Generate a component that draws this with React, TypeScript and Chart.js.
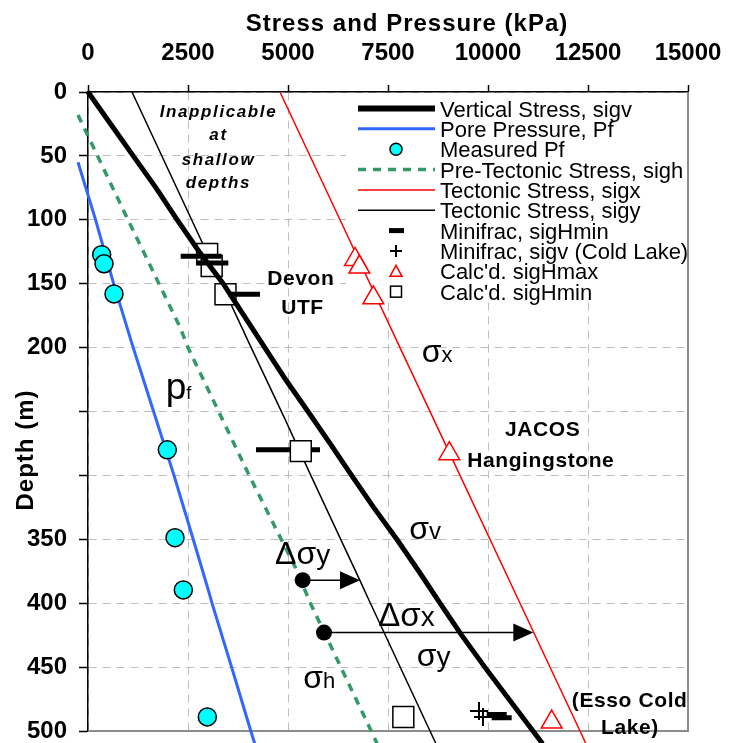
import React, { useEffect, useRef } from 'react';
import { Chart, registerables } from 'chart.js';

Chart.register(...registerables);

const FONT = "'Liberation Sans', Arial, Helvetica, sans-serif";

// ---- axes ----
const stressTicks = [0, 2500, 5000, 7500, 10000, 12500, 15000];
const depthTicks = [0, 50, 100, 150, 200, 250, 300, 350, 400, 450, 500];
const hiddenDepthTickLabels = [250, 300];

// ---- series (depth m, stress kPa) ----
const sigvDepth = [0, 25, 50, 75, 100, 125, 150, 175, 200, 225, 250, 275, 300, 325, 350, 375, 400, 425, 450, 475, 500, 510];
const sigvKPa = [0, 565, 1130, 1700, 2230, 2780, 3380, 3900, 4420, 4940, 5500, 6050, 6590, 7140, 7720, 8270, 8800, 9340, 9920, 10520, 11125, 11365];

const pfDepth = [55, 100, 150, 200, 250, 300, 350, 390, 400, 450, 500, 510];
const pfKPa = [-250, 190, 640, 1130, 1640, 2150, 2630, 3010, 3100, 3590, 4070, 4170];

const measuredPfDepth = [127.3, 134.4, 158, 280, 348.7, 389.6, 489];
const measuredPfKPa = [342, 400, 650, 1983, 2175, 2383, 2983];

const sighDepth = [18, 100, 184, 200, 300, 373, 400, 500, 510];
const sighKPa = [-250, 1000, 2300, 2500, 4030, 5200, 5560, 7080, 7230];

const sigxDepth = [0, 100, 200, 300, 400, 500, 510];
const sigxKPa = [4800, 6300, 7800, 9300, 10800, 12300, 12450];

const sigyDepth = [0, 100, 200, 256, 300, 381, 400, 500, 510];
const sigyKPa = [1100, 2590, 4080, 4925, 5570, 6780, 7060, 8550, 8700];

const minifracDepth = [128.5, 133.8, 158.2, 280, 280, 487, 489.6];
const minifracLowKPa = [2317, 2717, 3508, 4200, 5592, 9967, 10092];
const minifracHighKPa = [3342, 3508, 4300, 5050, 5800, 10467, 10592];

const coldLakeDepth = [484.4, 489];
const coldLakeKPa = [9775, 9875];

const sigHmaxDepth = [131, 137, 161, 283, 493];
const sigHmaxKPa = [6675, 6783, 7133, 9033, 11592];

const sigHminDepth = [126.7, 136.2, 158.2, 281, 489];
const sigHminKPa = [2979, 3092, 3437, 5320, 7883];

// ---- Δσ arrows ----
const arrowDepth = [382, 423];
const arrowFromKPa = [5367, 5900];
const arrowToKPa = [6800, 11133];

// ---- annotations ----
const noteLines = ['Inapplicable', 'at', 'shallow', 'depths'];
const noteKPa = [3237, 3237, 3237, 3237];
const noteDepth = [19.3, 37.5, 57, 75];

const siteLabels = ['Devon', 'UTF', 'JACOS', 'Hangingstone', '(Esso Cold', 'Lake)'];
const siteKPa = [5320, 5362, 11367, 11320, 13542, 13550];
const siteDepth = [150.8, 173.4, 269.3, 293.2, 481.5, 502.3];

const symbolLabels = ['σx', 'pf', 'σv', 'Δσy', 'Δσx', 'σy', 'σh'];
const symbolKPa = [8342, 1942, 8033, 4675, 7257, 8217, 5383];
const symbolDepth = [211.5, 240.6, 350, 369.5, 417.7, 449.5, 466.6];
const symbolMainSize = [32, 37, 32, 32, 33, 32, 32];
const symbolSubSize = [22, 18, 24, 28, 28, 28, 22];

const xTitle = 'Stress and Pressure (kPa)';
const yTitle = 'Depth (m)';

const pts = (xs: number[], ys: number[]) => xs.map((x, i) => ({ x, y: ys[i] }));

const segments = (depth: number[], lo: number[], hi: number[]) => {
  const out: any[] = [];
  depth.forEach((d, i) => {
    out.push({ x: lo[i], y: d }, { x: hi[i], y: d }, { x: NaN, y: NaN });
  });
  return out;
};

const legendOrder = [0, 1, 2, 3, 4, 5, 6, 7, 8, 9];

const overlayPlugin = {
  id: 'overlay',
  beforeDatasetsDraw(chart: any) {
    const { ctx, chartArea } = chart;
    ctx.save();
    // legend background
    ctx.fillStyle = '#ffffff';
    ctx.fillRect(346, chartArea.top + 1, chartArea.right - 346, 208);
    // right / bottom plot border
    ctx.strokeStyle = '#8c8c8c';
    ctx.lineWidth = 2;
    ctx.beginPath();
    ctx.moveTo(chartArea.right, chartArea.top);
    ctx.lineTo(chartArea.right, chartArea.bottom);
    ctx.lineTo(chartArea.left, chartArea.bottom);
    ctx.stroke();

    // legend items
    const ds = chart.data.datasets;
    legendOrder.forEach((di, row) => {
      const d = ds[di];
      const cy = 108.5 + row * 20.35;
      const kind = d.legendKind;
      ctx.setLineDash([]);
      if (kind === 'line') {
        ctx.strokeStyle = d.borderColor;
        ctx.lineWidth = d.legendWidth || d.borderWidth;
        ctx.lineCap = 'butt';
        ctx.setLineDash(d.borderDash || []);
        ctx.beginPath();
        ctx.moveTo(358, cy);
        ctx.lineTo(435, cy);
        ctx.stroke();
        ctx.setLineDash([]);
      } else if (kind === 'circle') {
        ctx.beginPath();
        ctx.arc(396, cy, 6, 0, Math.PI * 2);
        ctx.fillStyle = d.backgroundColor;
        ctx.fill();
        ctx.lineWidth = 1.5;
        ctx.strokeStyle = '#000';
        ctx.stroke();
      } else if (kind === 'dash') {
        ctx.fillStyle = '#000';
        ctx.fillRect(389, cy - 2.5, 15, 5);
      } else if (kind === 'cross') {
        ctx.strokeStyle = '#000';
        ctx.lineWidth = 2;
        ctx.beginPath();
        ctx.moveTo(390, cy); ctx.lineTo(402, cy);
        ctx.moveTo(396, cy - 6); ctx.lineTo(396, cy + 6);
        ctx.stroke();
      } else if (kind === 'triangle') {
        ctx.beginPath();
        ctx.moveTo(396, cy - 6);
        ctx.lineTo(402, cy + 5);
        ctx.lineTo(390, cy + 5);
        ctx.closePath();
        ctx.fillStyle = '#fff';
        ctx.fill();
        ctx.strokeStyle = '#ff0000';
        ctx.lineWidth = 1.5;
        ctx.stroke();
      } else if (kind === 'square') {
        ctx.fillStyle = '#fff';
        ctx.fillRect(390.5, cy - 5.5, 11, 11);
        ctx.strokeStyle = '#000';
        ctx.lineWidth = 1.5;
        ctx.strokeRect(390.5, cy - 5.5, 11, 11);
      }
      ctx.fillStyle = '#000';
      ctx.font = `22px ${FONT}`;
      ctx.textAlign = 'left';
      ctx.textBaseline = 'alphabetic';
      ctx.fillText(d.label, 440, cy + 8);
    });
    ctx.restore();
  },
  afterDatasetsDraw(chart: any) {
    const { ctx } = chart;
    const xs = chart.scales.x;
    const ys = chart.scales.y;
    ctx.save();

    // arrows
    arrowDepth.forEach((d, i) => {
      const y = ys.getPixelForValue(d);
      const x0 = xs.getPixelForValue(arrowFromKPa[i]);
      const x1 = xs.getPixelForValue(arrowToKPa[i]);
      ctx.strokeStyle = '#000';
      ctx.lineWidth = 1.5;
      ctx.beginPath();
      ctx.moveTo(x0, y);
      ctx.lineTo(x1 - 18, y);
      ctx.stroke();
      ctx.fillStyle = '#000';
      ctx.beginPath();
      ctx.moveTo(x1, y);
      ctx.lineTo(x1 - 20, y - 9);
      ctx.lineTo(x1 - 20, y + 9);
      ctx.closePath();
      ctx.fill();
      ctx.beginPath();
      ctx.arc(x0, y, 8, 0, Math.PI * 2);
      ctx.fill();
    });

    // notes
    ctx.fillStyle = '#000';
    ctx.textAlign = 'center';
    ctx.textBaseline = 'alphabetic';
    ctx.font = `italic bold 17px ${FONT}`;
    (ctx as any).letterSpacing = '1.6px';
    noteLines.forEach((t, i) => {
      ctx.fillText(t, xs.getPixelForValue(noteKPa[i]) + 1, ys.getPixelForValue(noteDepth[i]));
    });

    ctx.font = `bold 21px ${FONT}`;
    (ctx as any).letterSpacing = '0.6px';
    siteLabels.forEach((t, i) => {
      ctx.fillText(t, xs.getPixelForValue(siteKPa[i]), ys.getPixelForValue(siteDepth[i]));
    });
    (ctx as any).letterSpacing = '0px';

    // symbol labels
    ctx.textAlign = 'left';
    symbolLabels.forEach((t, i) => {
      let x = xs.getPixelForValue(symbolKPa[i]);
      const y = ys.getPixelForValue(symbolDepth[i]);
      const main = t.slice(0, -1);
      const sub = t.slice(-1);
      ctx.font = `${symbolMainSize[i]}px ${FONT}`;
      ctx.fillText(main, x, y);
      x += ctx.measureText(main).width;
      ctx.font = `${symbolSubSize[i]}px ${FONT}`;
      ctx.fillText(sub, x, y);
    });

    // axis titles
    ctx.font = `bold 24px ${FONT}`;
    (ctx as any).letterSpacing = '1px';
    ctx.textAlign = 'center';
    ctx.fillText(xTitle, 407, 31);
    ctx.translate(33, 450);
    ctx.rotate(-Math.PI / 2);
    ctx.fillText(yTitle, 0, 0);
    ctx.restore();
  },
};

export default function App() {
  const ref = useRef<HTMLCanvasElement | null>(null);

  useEffect(() => {
    if (!ref.current) return;
    const datasets: any[] = [
      {
        label: 'Vertical Stress, sigv', legendKind: 'line', legendWidth: 6,
        data: pts(sigvKPa, sigvDepth), showLine: true, borderColor: '#000000', borderWidth: 5,
        pointRadius: 0, clip: false, order: 3,
      },
      {
        label: 'Pore Pressure, Pf', legendKind: 'line',
        data: pts(pfKPa, pfDepth), showLine: true, borderColor: '#3366ff', borderWidth: 3,
        pointRadius: 0, clip: false, order: 7,
      },
      {
        label: 'Measured Pf', legendKind: 'circle',
        data: pts(measuredPfKPa, measuredPfDepth), showLine: false, backgroundColor: '#00ffff',
        borderColor: '#000000', borderWidth: 1.5, pointRadius: 9, pointStyle: 'circle', order: 1,
      },
      {
        label: 'Pre-Tectonic Stress, sigh', legendKind: 'line',
        data: pts(sighKPa, sighDepth), showLine: true, borderColor: '#339966', borderWidth: 3.5,
        borderDash: [8, 7], pointRadius: 0, clip: false, order: 8,
      },
      {
        label: 'Tectonic Stress, sigx', legendKind: 'line',
        data: pts(sigxKPa, sigxDepth), showLine: true, borderColor: '#ff0000', borderWidth: 1.5,
        pointRadius: 0, clip: false, order: 6,
      },
      {
        label: 'Tectonic Stress, sigy', legendKind: 'line',
        data: pts(sigyKPa, sigyDepth), showLine: true, borderColor: '#000000', borderWidth: 1.5,
        pointRadius: 0, clip: false, order: 9,
      },
      {
        label: 'Minifrac, sigHmin', legendKind: 'dash',
        data: segments(minifracDepth, minifracLowKPa, minifracHighKPa), showLine: true,
        borderColor: '#000000', borderWidth: 5, pointRadius: 0, spanGaps: false, clip: false, order: 2,
      },
      {
        label: 'Minifrac, sigv (Cold Lake)', legendKind: 'cross',
        data: pts(coldLakeKPa, coldLakeDepth), showLine: false, pointStyle: 'cross', pointRadius: 9,
        borderColor: '#000000', borderWidth: 2, order: 0,
      },
      {
        label: "Calc'd. sigHmax", legendKind: 'triangle',
        data: pts(sigHmaxKPa, sigHmaxDepth), showLine: false, pointStyle: 'triangle', pointRadius: 12,
        backgroundColor: '#ffffff', borderColor: '#ff0000', borderWidth: 1.5, clip: false, order: 1,
      },
      {
        label: "Calc'd. sigHmin", legendKind: 'square',
        data: pts(sigHminKPa, sigHminDepth), showLine: false, pointStyle: 'rect', pointRadius: 14.8,
        backgroundColor: '#ffffff', borderColor: '#000000', borderWidth: 1.5, clip: false, order: 4,
      },
    ];

    const tickFont = { family: FONT, size: 24, weight: 'bold' as const };
    const chart = new Chart(ref.current, {
      type: 'scatter',
      data: { datasets },
      options: {
        animation: false,
        responsive: false,
        events: [],
        layout: { autoPadding: false, padding: { left: 0, top: 0, right: 52, bottom: 12 } },
        plugins: {
          legend: { display: false },
          tooltip: { enabled: false },
          title: { display: false },
        },
        scales: {
          x: {
            type: 'linear',
            position: 'top',
            min: 0,
            max: 15000,
            afterBuildTicks: (s: any) => { s.ticks = stressTicks.map((v) => ({ value: v })); },
            afterFit: (s: any) => { s.height = 92; s.paddingLeft = 0; s.paddingRight = 0; },
            ticks: {
              font: tickFont, color: '#000', padding: 17, maxRotation: 0, autoSkip: false,
              callback: (v: any) => String(v),
            },
            grid: { color: '#bdbdbd', lineWidth: 1, tickLength: 7, tickColor: '#000', tickWidth: 1.5 },
            border: { display: true, color: '#000', width: 1.5, dash: [8, 6] },
            title: { display: false },
          },
          y: {
            type: 'linear',
            position: 'left',
            reverse: true,
            min: 0,
            max: 500,
            afterBuildTicks: (s: any) => { s.ticks = depthTicks.map((v) => ({ value: v })); },
            afterFit: (s: any) => { s.width = 88; s.paddingTop = 0; s.paddingBottom = 0; },
            ticks: {
              font: tickFont, color: '#000', padding: 12, autoSkip: false,
              callback: (v: any) => (hiddenDepthTickLabels.includes(Number(v)) ? '' : String(v)),
            },
            grid: { color: '#bdbdbd', lineWidth: 1, tickLength: 9, tickColor: '#000', tickWidth: 1.5 },
            border: { display: true, color: '#000', width: 1.5, dash: [8, 6] },
            title: { display: false },
          },
        },
      } as any,
      plugins: [overlayPlugin as any],
    });
    return () => chart.destroy();
  }, []);

  return (
    <div style={{ position: 'fixed', left: 0, top: 0, width: 740, height: 743, background: '#fff' }}>
      <canvas ref={ref} width={740} height={743} style={{ display: 'block' }} />
    </div>
  );
}
